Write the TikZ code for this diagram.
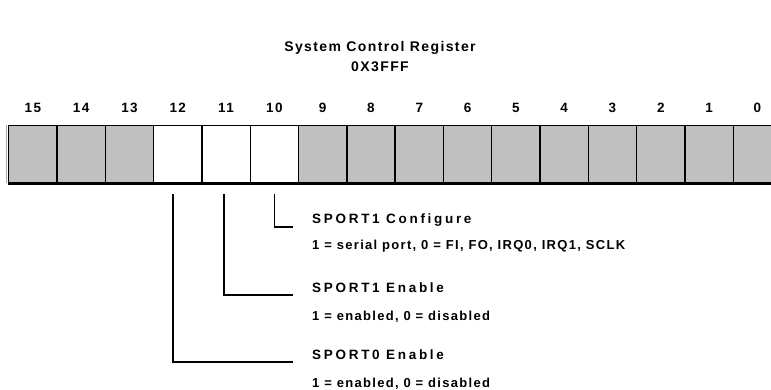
\documentclass[tikz,border=0pt]{standalone}
\usepackage{fontspec}
\setmainfont{Liberation Sans}[LetterSpace=10]
\newfontfamily\headfont{Liberation Sans}[LetterSpace=20]
\usepackage{tikz}
\usetikzlibrary{positioning}
\definecolor{regGray}{RGB}{192,192,192}
\tikzstyle{bitcell} = [draw=black, line width=1.4pt, minimum width=48.3pt, minimum height=57pt, inner sep=0pt, anchor=north west]
\tikzstyle{bitnum} = [font=\bfseries\fontsize{13.5}{15}\selectfont, inner sep=0pt, anchor=base]
\tikzstyle{desc} = [font=\bfseries\fontsize{13}{15}\selectfont, inner sep=0pt, anchor=base west]
\tikzstyle{deschead} = [font=\headfont\bfseries\fontsize{13.5}{15}\selectfont, inner sep=0pt, anchor=base west]
\tikzstyle{titletext} = [font=\bfseries\fontsize{14}{16}\selectfont, inner sep=0pt, anchor=base]
\tikzstyle{lead} = [line width=1.7pt]

\begin{document}
\begin{tikzpicture}[x=1pt, y=-1pt]
    \useasboundingbox (0,0) rectangle (771,390);
    % title
    \node[titletext] (title) at (380,52) {System Control Register};
    \node[titletext] (addr) at (380,72) {0X3FFF};
    % register cells
    \foreach \b in {15,...,0} {
      \pgfmathsetmacro{\xl}{8+(15-\b)*48.3}
      \ifnum\b>12 \def\cellfill{regGray}\else\ifnum\b<10 \def\cellfill{regGray}\else\def\cellfill{white}\fi\fi
      \node[bitcell, fill=\cellfill] (cell\b) at (\xl,125) {};
      \node[bitnum] (num\b) at ([yshift=12pt]cell\b.north) {\b};
    }
    \draw[line width=2.6pt] (cell15.south west) -- (cell0.south east);
    \draw[black!35, line width=1pt] ([xshift=-1.6pt]cell15.north west) -- ([xshift=-1.6pt]cell15.south west);
    % field descriptions
    \node[deschead] (cfg) at (312,224) {SPORT1 Configure};
    \node[desc] (cfgval) at (312,249) {1 = serial port, 0 = FI, FO, IRQ0, IRQ1, SCLK};
    \node[deschead] (en1) at (312,292) {SPORT1 Enable};
    \node[desc] (en1val) at (312,320) {1 = enabled, 0 = disabled};
    \node[deschead] (en0) at (312,359) {SPORT0 Enable};
    \node[desc] (en0val) at (312,387) {1 = enabled, 0 = disabled};
    % leader lines
    \draw[lead] ([shift={(0pt,-11pt)}]cell10.south) |- ([shift={(-19pt,-3pt)}]cfg.base west);
    \draw[lead] ([shift={(-2pt,-11pt)}]cell11.south) |- ([shift={(-19pt,-3pt)}]en1.base west);
    \draw[lead] ([shift={(-4.5pt,-11pt)}]cell12.south) |- ([shift={(-19pt,-3pt)}]en0.base west);
\end{tikzpicture}
\end{document}
